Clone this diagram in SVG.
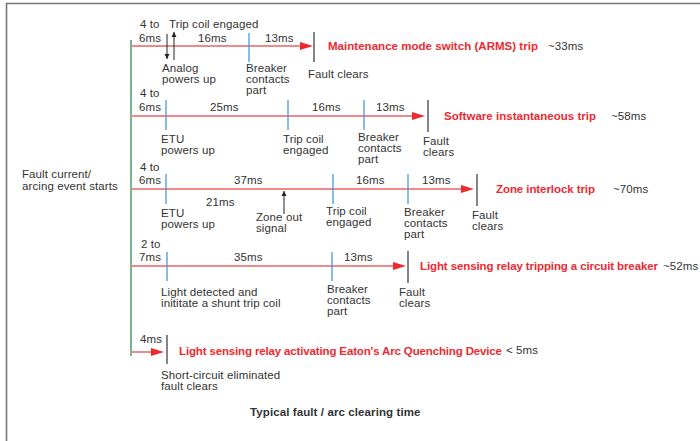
<svg xmlns="http://www.w3.org/2000/svg" width="700" height="441" viewBox="0 0 700 441">
<defs>
<style>
text{font-family:"Liberation Sans",Arial,sans-serif;font-size:11.5px;letter-spacing:0.1px;fill:#333}
.t{font-weight:bold;fill:#ee2a30;letter-spacing:0}
.b{font-weight:bold;fill:#333}
.line{stroke:#f08a8a;stroke-width:2;fill:none}
.head{fill:#ee2a30}
.blue{stroke:#3a8fd0;stroke-width:1.2}
.blk{stroke:#333;stroke-width:1.2}
.arr{stroke:#222;stroke-width:1;fill:none}
</style>
<marker id="ah" viewBox="0 0 10 10" refX="10" refY="5" markerWidth="5" markerHeight="7" orient="auto" markerUnits="userSpaceOnUse"><path d="M0,0 L10,5 L0,10 Z" fill="#222"/></marker>
</defs>
<rect x="0" y="0" width="700" height="441" fill="#fff"/>
<path d="M6.5,441 V3.5 H700" stroke="#777" stroke-width="1.6" fill="none"/>

<g id="connectors">
<line x1="131" y1="40" x2="131" y2="356" stroke="#2e8b57" stroke-width="1.3"/>
<line class="line" x1="131" y1="46" x2="302" y2="46"/><path class="head" d="M300,42 L313,46 L300,50 Z"/>
<line class="line" x1="131" y1="116" x2="413" y2="116"/><path class="head" d="M412,112 L425,116 L412,120 Z"/>
<line class="line" x1="131" y1="189" x2="462" y2="189"/><path class="head" d="M461,185 L474,189 L461,193 Z"/>
<line class="line" x1="131" y1="266" x2="394" y2="266"/><path class="head" d="M393,262 L406,266 L393,270 Z"/>
<line class="line" x1="131" y1="352" x2="152" y2="352"/><path class="head" d="M151,348 L164,352 L151,356 Z"/>
<line class="arr" x1="167" y1="34" x2="167" y2="59" marker-end="url(#ah)"/>
<line class="arr" x1="174" y1="60" x2="174" y2="32" marker-end="url(#ah)"/>
<line class="arr" x1="284" y1="214" x2="284" y2="191" marker-end="url(#ah)"/>
</g>

<g id="start"><text x="22" y="178">Fault current/</text><text x="22" y="190">arcing event starts</text></g>

<g id="row1">
<text x="140" y="28">4 to</text><text x="139" y="42">6ms</text>
<text x="169" y="28">Trip coil engaged</text>
<text x="198" y="42">16ms</text>
<line class="blue" x1="249" y1="33" x2="249" y2="62"/>
<text x="265" y="42">13ms</text>
<line class="blk" x1="314" y1="32" x2="314" y2="62"/>
<text x="162" y="72">Analog</text><text x="162" y="83">powers up</text>
<text x="246" y="72">Breaker</text><text x="246" y="83">contacts</text><text x="246" y="94">part</text>
<text x="308" y="78">Fault clears</text>
<text class="t" x="328" y="50" textLength="210" lengthAdjust="spacing">Maintenance mode switch (ARMS) trip</text>
<text x="548" y="50">~33ms</text>
</g>

<g id="row2">
<text x="140" y="97">4 to</text><text x="139" y="111">6ms</text>
<line class="blue" x1="166" y1="100" x2="166" y2="130"/>
<text x="210" y="111">25ms</text>
<line class="blue" x1="288" y1="100" x2="288" y2="130"/>
<text x="312" y="111">16ms</text>
<line class="blue" x1="364" y1="100" x2="364" y2="130"/>
<text x="376" y="111">13ms</text>
<line class="blk" x1="428" y1="100" x2="428" y2="132"/>
<text x="161" y="143">ETU</text><text x="161" y="154">powers up</text>
<text x="283" y="143">Trip coil</text><text x="283" y="154">engaged</text>
<text x="358" y="141">Breaker</text><text x="358" y="152">contacts</text><text x="358" y="163">part</text>
<text x="423" y="145">Fault</text><text x="423" y="156">clears</text>
<text class="t" x="444" y="120" textLength="152" lengthAdjust="spacing">Software instantaneous trip</text>
<text x="611" y="120">~58ms</text>
</g>

<g id="row3">
<text x="140" y="171">4 to</text><text x="139" y="184">6ms</text>
<line class="blue" x1="166" y1="174" x2="166" y2="204"/>
<text x="234" y="184">37ms</text>
<text x="206" y="206">21ms</text>
<line class="blue" x1="333" y1="174" x2="333" y2="204"/>
<text x="356" y="184">16ms</text>
<line class="blue" x1="408" y1="174" x2="408" y2="204"/>
<text x="422" y="184">13ms</text>
<line class="blk" x1="477" y1="174" x2="477" y2="206"/>
<text x="161" y="217">ETU</text><text x="161" y="228">powers up</text>
<text x="256" y="221">Zone out</text><text x="256" y="232">signal</text>
<text x="326" y="215">Trip coil</text><text x="326" y="226">engaged</text>
<text x="404" y="216">Breaker</text><text x="404" y="227">contacts</text><text x="404" y="238">part</text>
<text x="472" y="219">Fault</text><text x="472" y="230">clears</text>
<text class="t" x="496" y="193" textLength="99" lengthAdjust="spacing">Zone interlock trip</text>
<text x="613" y="193">~70ms</text>
</g>

<g id="row4">
<text x="141" y="248">2 to</text><text x="139" y="261">7ms</text>
<line class="blue" x1="167" y1="252" x2="167" y2="281"/>
<text x="234" y="261">35ms</text>
<line class="blue" x1="332" y1="252" x2="332" y2="281"/>
<text x="344" y="261">13ms</text>
<line class="blk" x1="408" y1="251" x2="408" y2="283"/>
<text x="161" y="296">Light detected and</text><text x="161" y="307">inititate a shunt trip coil</text>
<text x="327" y="293">Breaker</text><text x="327" y="304">contacts</text><text x="327" y="315">part</text>
<text x="399" y="296">Fault</text><text x="399" y="307">clears</text>
<text class="t" x="420" y="270" textLength="238" lengthAdjust="spacing">Light sensing relay tripping a circuit breaker</text>
<text x="663" y="270">~52ms</text>
</g>

<g id="row5">
<text x="140" y="343">4ms</text>
<line class="blk" x1="167" y1="335" x2="167" y2="364"/>
<text class="t" x="179" y="355" textLength="323" lengthAdjust="spacing">Light sensing relay activating Eaton's Arc Quenching Device</text>
<text x="506" y="354">&lt; 5ms</text>
<text x="161" y="379">Short-circuit eliminated</text><text x="161" y="390">fault clears</text>
</g>

<g id="caption"><text class="b" x="250" y="416">Typical fault / arc clearing time</text></g>
</svg>
